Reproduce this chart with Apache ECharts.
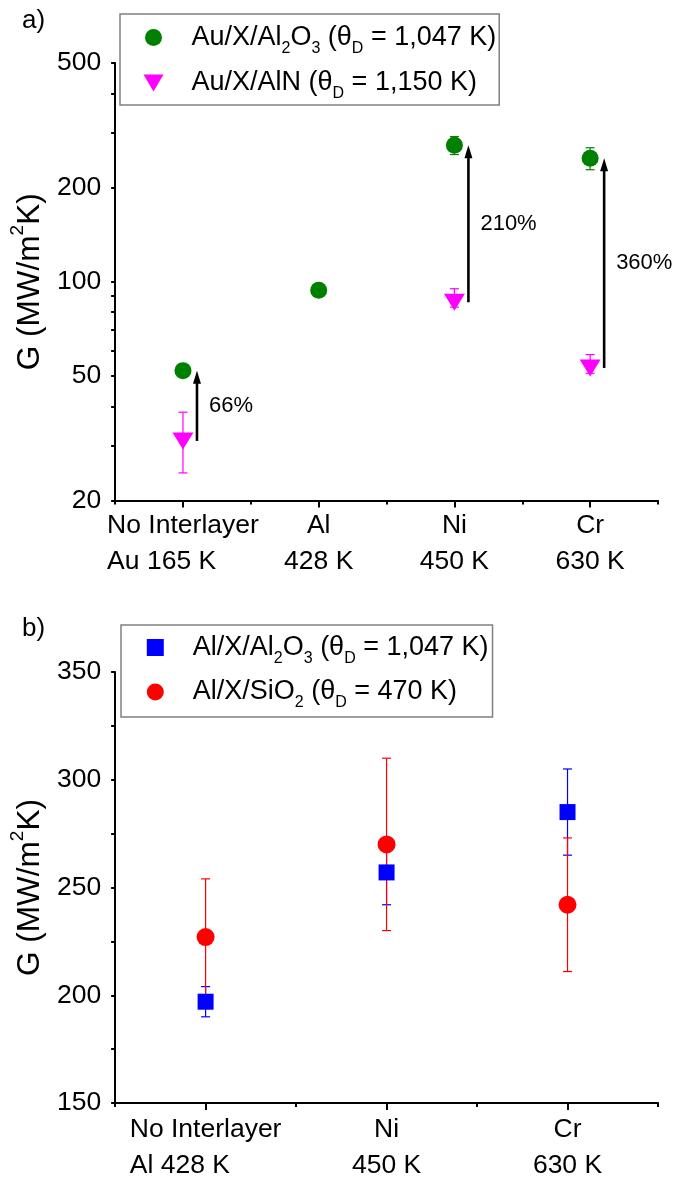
<!DOCTYPE html>
<html><head><meta charset="utf-8">
<script src="https://cdn.jsdelivr.net/npm/echarts@6/dist/echarts.min.js"></script>
<style>html,body{margin:0;padding:0;background:#fff}#c{width:686px;height:1184px}</style>
</head><body><div id="c"></div>
<script>
// ---- Panel a) data ----
const topCategories = ['No Interlayer\nAu 165 K', 'Al\n428 K', 'Ni\n450 K', 'Cr\n630 K'];
const auAl2O3 = [52, 94, 273, 248];
const auAl2O3ErrUp = [0, 0, 18, 20];
const auAl2O3ErrDown = [0, 0, 18, 20];
const auAlN = [31, null, 86, 53];
const auAlNErrUp = [7.3, null, 9, 5.5];
const auAlNErrDown = [6.5, null, 3, 2];
const arrowCats = [0, 2, 3];
const arrowLabels = ['66%', '210%', '360%'];
const topTickLabels = [20, 50, 100, 200, 500];
const topTickMarks = [20, 30, 40, 50, 60, 70, 80, 90, 100, 200, 300, 400, 500];

// ---- Panel b) data ----
const bottomCategories = ['No Interlayer\nAl 428 K', 'Ni\n450 K', 'Cr\n630 K'];
const alAl2O3 = [197, 257, 285];
const alAl2O3Err = [7, 15, 20];
const alSiO2 = [227, 270, 242];
const alSiO2Err = [27, 40, 31];

const FONT = '"Liberation Sans", Arial, sans-serif';
const GREEN = '#008000', MAGENTA = '#ff00ff', BLUE = '#0000ff', RED = '#ff0000';
const TRI_DOWN = 'path://M0,0L20,0L10,17Z';

const names = {
  a1: 'Au/X/Al2O3 (θD = 1,047 K)',
  a2: 'Au/X/AlN (θD = 1,150 K)',
  b1: 'Al/X/Al2O3 (θD = 1,047 K)',
  b2: 'Al/X/SiO2 (θD = 470 K)'
};
const legendRich = {
  a1: '{g| }{t|Au/X/Al}{s|2}{t|O}{s|3}{t| (θ}{s|D}{t| = 1,047 K)}',
  a2: '{g| }{t|Au/X/AlN (θ}{s|D}{t| = 1,150 K)}',
  b1: '{h| }{t|Al/X/Al}{s|2}{t|O}{s|3}{t| (θ}{s|D}{t| = 1,047 K)}',
  b2: '{h| }{t|Al/X/SiO}{s|2}{t| (θ}{s|D}{t| = 470 K)}'
};
function legendFormatter(n) {
  for (const k in names) if (names[k] === n) return legendRich[k];
  return n;
}
const richStyles = {
  g: { width: 22.5, fontSize: 27, lineHeight: 38 },
  h: { width: 24, fontSize: 27, lineHeight: 38 },
  t: { fontSize: 27, lineHeight: 38, fontFamily: FONT, color: '#000' },
  s: { fontSize: 16, verticalAlign: 'bottom', fontFamily: FONT, color: '#000' }
};

function seriesData(vals, up, down) {
  const out = [];
  vals.forEach((v, i) => { if (v != null) out.push([i, v, up[i], down[i]]); });
  return out;
}

function errRender(color) {
  return function (params, api) {
    const x = api.value(0), v = api.value(1), eu = api.value(2), ed = api.value(3);
    if (!eu && !ed) return;
    const t = api.coord([x, v + eu]), b = api.coord([x, v - ed]);
    const hw = 4.5;
    const st = { stroke: color, lineWidth: 1.2 };
    return {
      type: 'group', children: [
        { type: 'line', shape: { x1: t[0], y1: t[1], x2: b[0], y2: b[1] }, style: st },
        { type: 'line', shape: { x1: t[0] - hw, y1: t[1], x2: t[0] + hw, y2: t[1] }, style: st },
        { type: 'line', shape: { x1: b[0] - hw, y1: b[1], x2: b[0] + hw, y2: b[1] }, style: st }
      ]
    };
  };
}

function arrowRender(params, api) {
  const c = api.value(0), a = api.value(1), b = api.value(2);
  const p0 = api.coord([c, a]), p1 = api.coord([c, b]);
  const x = p0[0] + 14;
  const headL = 13, headW = 4;
  const mid = api.coord([c, Math.sqrt(a * b)]);
  return {
    type: 'group', children: [
      { type: 'line', shape: { x1: x, y1: p0[1], x2: x, y2: p1[1] + headL - 1 }, style: { stroke: '#000', lineWidth: 2.6 } },
      { type: 'polygon', shape: { points: [[x, p1[1]], [x - headW, p1[1] + headL], [x + headW, p1[1] + headL]] }, style: { fill: '#000' } },
      { type: 'text', x: x + 12, y: mid[1], style: { text: arrowLabels[params.dataIndex], font: '22px ' + FONT, fill: '#000', verticalAlign: 'middle', align: 'left' } }
    ]
  };
}

const axisLineStyle = { color: '#000', width: 2 };
const tickLabelStyle = { fontSize: 26.5, fontFamily: FONT, color: '#000' };
const yName = '{t|G (MW/m}{p|2}{t|K)}';
const yNameStyle = {
  fontFamily: FONT, color: '#000',
  rich: {
    t: { fontSize: 31.5, lineHeight: 44, fontFamily: FONT, color: '#000' },
    p: { fontSize: 19, verticalAlign: 'top', fontFamily: FONT, color: '#000' }
  }
};

function catLabelFormatter(v, i) {
  // first category's two lines are left-aligned in the reference
  if (i === 0) return v.split('\n').map(s => '{l|' + s + '}').join('\n');
  return v;
}

function catAxes(gridIndex, cats, margin) {
  return [
    {
      type: 'category', gridIndex, data: cats, position: 'bottom',
      axisLine: { show: true, onZero: false, lineStyle: axisLineStyle },
      axisTick: { show: true, alignWithLabel: true, interval: 0, length: 7, lineStyle: { color: '#000', width: 2 } },
      axisLabel: Object.assign({
        interval: 0, lineHeight: 36, margin, formatter: catLabelFormatter,
        rich: { l: { align: 'left', fontSize: 26.5, lineHeight: 36, fontFamily: FONT, color: '#000' } }
      }, tickLabelStyle),
      splitLine: { show: false }
    },
    {
      type: 'category', gridIndex, data: cats, position: 'bottom',
      axisLine: { show: false, onZero: false },
      axisTick: { show: true, interval: 0, length: 4, lineStyle: { color: '#000', width: 2 } },
      axisLabel: { show: false },
      splitLine: { show: false }
    }
  ];
}

const chart = echarts.init(document.getElementById('c'), null, { renderer: 'canvas' });
chart.setOption({
  backgroundColor: '#fff',
  animation: false,
  textStyle: { fontFamily: FONT },
  grid: [
    { left: 113, width: 545, top: 63, height: 437.5 },
    { left: 113, width: 545, top: 672, height: 436.8 }
  ],
  xAxis: [...catAxes(0, topCategories, 7), ...catAxes(1, bottomCategories, 9)],
  yAxis: [
    {
      type: 'log', logBase: 10, gridIndex: 0, min: 20, max: 500,
      axisLine: { show: true, lineStyle: axisLineStyle },
      axisTick: { show: true, length: 4, customValues: topTickMarks, lineStyle: { color: '#000', width: 2 } },
      axisLabel: Object.assign({ customValues: topTickLabels, margin: 14 }, tickLabelStyle),
      splitLine: { show: false },
      minorTick: { show: false },
      name: yName, nameLocation: 'middle', nameGap: 59, nameTextStyle: yNameStyle
    },
    {
      type: 'value', gridIndex: 1, min: 150, max: 350, interval: 25,
      axisLine: { show: true, lineStyle: axisLineStyle },
      axisTick: { show: true, length: 4, lineStyle: { color: '#000', width: 2 } },
      axisLabel: Object.assign({ margin: 14, formatter: v => (v % 50 === 0 ? String(v) : '') }, tickLabelStyle),
      splitLine: { show: false },
      name: yName, nameLocation: 'middle', nameGap: 59, nameTextStyle: yNameStyle
    }
  ],
  legend: [
    {
      data: [names.a1, names.a2], orient: 'vertical', left: 120, top: 14,
      itemWidth: 21, itemHeight: 17, itemGap: 13,
      padding: [10, 3, 3, 23.5], borderColor: '#808080', borderWidth: 1.5,
      formatter: legendFormatter, selectedMode: false,
      textStyle: { fontSize: 27, fontFamily: FONT, color: '#000', rich: richStyles }
    },
    {
      data: [names.b1, names.b2], orient: 'vertical', left: 121, top: 625,
      itemWidth: 17, itemHeight: 17, itemGap: 12,
      padding: [9, 4, 6, 25.8], borderColor: '#808080', borderWidth: 1.5,
      formatter: legendFormatter, selectedMode: false,
      textStyle: { fontSize: 27, fontFamily: FONT, color: '#000', rich: richStyles }
    }
  ],
  graphic: [
    { type: 'text', left: 22, top: 8, style: { text: 'a)', font: '26px ' + FONT, fill: '#000' } },
    { type: 'text', left: 22, top: 616, style: { text: 'b)', font: '26px ' + FONT, fill: '#000' } }
  ],
  series: [
    { type: 'custom', name: 'errA1', xAxisIndex: 0, yAxisIndex: 0, data: seriesData(auAl2O3, auAl2O3ErrUp, auAl2O3ErrDown), renderItem: errRender(GREEN), z: 1, silent: true },
    { type: 'custom', name: 'errA2', xAxisIndex: 0, yAxisIndex: 0, data: seriesData(auAlN, auAlNErrUp, auAlNErrDown), renderItem: errRender(MAGENTA), z: 1, silent: true },
    { type: 'scatter', name: names.a1, xAxisIndex: 0, yAxisIndex: 0, data: seriesData(auAl2O3, auAl2O3ErrUp, auAl2O3ErrDown), symbol: 'circle', symbolSize: 17, itemStyle: { color: GREEN, opacity: 1 }, z: 3 },
    { type: 'scatter', name: names.a2, xAxisIndex: 0, yAxisIndex: 0, data: seriesData(auAlN, auAlNErrUp, auAlNErrDown), symbol: TRI_DOWN, symbolSize: [21, 17], itemStyle: { color: MAGENTA, opacity: 1 }, z: 3 },
    { type: 'custom', name: 'arrows', xAxisIndex: 0, yAxisIndex: 0, data: arrowCats.map(c => [c, auAlN[c], auAl2O3[c]]), renderItem: arrowRender, z: 4, silent: true },

    { type: 'custom', name: 'errB1', xAxisIndex: 2, yAxisIndex: 1, data: seriesData(alAl2O3, alAl2O3Err, alAl2O3Err), renderItem: errRender(BLUE), z: 1, silent: true },
    { type: 'custom', name: 'errB2', xAxisIndex: 2, yAxisIndex: 1, data: seriesData(alSiO2, alSiO2Err, alSiO2Err), renderItem: errRender(RED), z: 1, silent: true },
    { type: 'scatter', name: names.b1, xAxisIndex: 2, yAxisIndex: 1, data: seriesData(alAl2O3, alAl2O3Err, alAl2O3Err), symbol: 'rect', symbolSize: 16, itemStyle: { color: BLUE, opacity: 1 }, z: 3 },
    { type: 'scatter', name: names.b2, xAxisIndex: 2, yAxisIndex: 1, data: seriesData(alSiO2, alSiO2Err, alSiO2Err), symbol: 'circle', symbolSize: 18, itemStyle: { color: RED, opacity: 1 }, z: 3 }
  ]
});
</script></body></html>
